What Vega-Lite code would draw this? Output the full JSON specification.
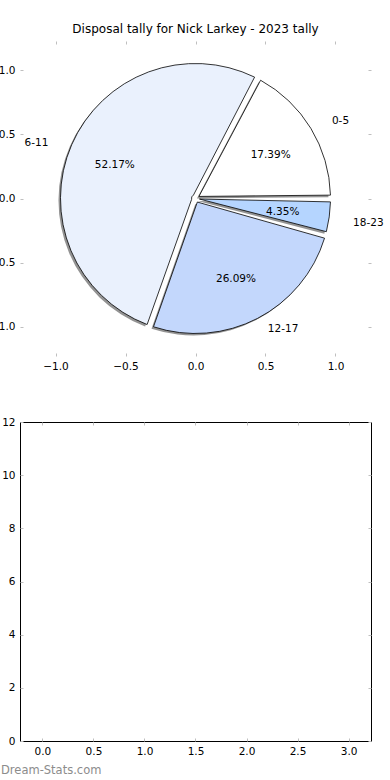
{
  "$schema": "https://vega.github.io/schema/vega-lite/v6.json",
  "autosize": {"type": "pad"},
  "padding": {"left": -11, "top": 22, "right": 0, "bottom": 0},
  "background": "white",
  "bounds": "flush",
  "spacing": 66,
  "config": {
    "font": "DejaVu Sans",
    "view": {"stroke": null},
    "axis": {
      "domain": false, "grid": false, "ticks": true,
      "tickColor": "#bfbfbf", "tickSize": -3, "tickWidth": 1,
      "labelFont": "DejaVu Sans", "labelFontSize": 10.5, "labelColor": "black",
      "labelPadding": 8, "title": null
    }
  },
  "datasets": {
    "tally": [
      {"label": "0-5", "start": 0, "count": 4, "pct": "17.39%"},
      {"label": "6-11", "start": 6, "count": 12, "pct": "52.17%"},
      {"label": "12-17", "start": 12, "count": 6, "pct": "26.09%"},
      {"label": "18-23", "start": 18, "count": 1, "pct": "4.35%"}
    ]
  },
  "vconcat": [
    {
      "width": 351,
      "height": 315,
      "title": {"text": "Disposal tally for Nick Larkey - 2023 tally", "font": "DejaVu Sans", "fontSize": 12, "fontWeight": "normal", "color": "black", "offset": 5},
      "data": {"name": "tally"},
      "layer": [
        {
          "mark": {"type": "point", "opacity": 0},
          "encoding": {
            "x": {"datum": 0, "type": "quantitative", "scale": {"domain": [-1.2536, 1.2536], "nice": false, "zero": false}, "axis": {"orient": "bottom", "values": [-1, -0.5, 0, 0.5, 1], "format": ".1f"}},
            "y": {"datum": 0, "type": "quantitative", "scale": {"domain": [-1.23, 1.23], "nice": false, "zero": false}, "axis": {"orient": "left", "values": [-1, -0.5, 0, 0.5, 1], "format": ".1f"}}
          }
        },
        {
          "mark": {"type": "point", "opacity": 0},
          "encoding": {
            "x": {"datum": 0, "type": "quantitative", "axis": {"orient": "top", "values": [-1, -0.5, 0, 0.5, 1], "labels": false}},
            "y": {"datum": 0, "type": "quantitative", "axis": {"orient": "right", "values": [-1, -0.5, 0, 0.5, 1], "labels": false}}
          }
        },
        {
          "encoding": {
            "theta": {"field": "count", "type": "quantitative", "stack": true, "scale": {"range": [1.5708, 7.854]}},
            "order": {"field": "start", "type": "quantitative", "sort": "descending"}
          },
          "layer": [
            {"mark": {"type": "arc", "outerRadius": 135, "innerRadius": 4, "padAngle": 0.05, "fill": "#808080", "opacity": 0.85, "xOffset": -2, "yOffset": 2}},
            {
              "mark": {"type": "arc", "outerRadius": 135, "innerRadius": 4, "padAngle": 0.05, "stroke": "black", "strokeWidth": 0.8},
              "encoding": {"color": {"field": "label", "type": "nominal", "scale": {"domain": ["0-5", "6-11", "12-17", "18-23"], "range": ["#ffffff", "#eaf1fd", "#c3d7fc", "#b5d5ff"]}, "legend": null}}
            },
            {
              "mark": {"type": "text", "radius": 88, "font": "DejaVu Sans", "fontSize": 10.5, "color": "black", "baseline": "middle", "align": "center", "dy": 2},
              "encoding": {"text": {"field": "pct", "type": "nominal"}}
            },
            {
              "mark": {"type": "text", "radius": 155, "font": "DejaVu Sans", "fontSize": 10.5, "color": "black", "baseline": "middle", "align": "left", "dx": 4, "dy": 3},
              "encoding": {"text": {"field": "label", "type": "nominal", "condition": {"test": "datum.label !== '0-5' && datum.label !== '18-23'", "value": ""}}}
            },
            {
              "mark": {"type": "text", "radius": 155, "font": "DejaVu Sans", "fontSize": 10.5, "color": "black", "baseline": "middle", "align": "left", "dx": 1, "dy": -7},
              "encoding": {"text": {"field": "label", "type": "nominal", "condition": {"test": "datum.label !== '12-17'", "value": ""}}}
            },
            {
              "mark": {"type": "text", "radius": 155, "font": "DejaVu Sans", "fontSize": 10.5, "color": "black", "baseline": "middle", "align": "right", "dx": -5, "dy": 6},
              "encoding": {"text": {"field": "label", "type": "nominal", "condition": {"test": "datum.label !== '6-11'", "value": ""}}}
            }
          ]
        }
      ]
    },
    {
      "width": 351,
      "height": 319,
      "view": {"stroke": "black", "strokeWidth": 1},
      "title": {"text": "Dream-Stats.com", "orient": "bottom", "anchor": "start", "frame": "group", "font": "DejaVu Sans", "fontSize": 11.5, "fontWeight": "normal", "color": "#8c8c8c", "dx": -19, "offset": 8},
      "data": {"name": "tally"},
      "layer": [
        {
          "mark": {"type": "point", "opacity": 0},
          "encoding": {
            "x": {"datum": 0, "type": "quantitative", "scale": {"domain": [-0.22, 3.22], "nice": false, "zero": false}, "axis": {"orient": "bottom", "values": [0, 0.5, 1, 1.5, 2, 2.5, 3], "format": ".1f"}},
            "y": {"datum": 0, "type": "quantitative", "scale": {"domain": [0, 12], "nice": false, "zero": false}, "axis": {"orient": "left", "values": [0, 2, 4, 6, 8, 10, 12], "format": "d"}}
          }
        },
        {
          "mark": {"type": "point", "opacity": 0},
          "encoding": {
            "x": {"datum": 0, "type": "quantitative", "axis": {"orient": "top", "values": [0, 0.5, 1, 1.5, 2, 2.5, 3], "labels": false}},
            "y": {"datum": 0, "type": "quantitative", "axis": {"orient": "right", "values": [0, 2, 4, 6, 8, 10, 12], "labels": false}}
          }
        }
      ]
    }
  ]
}
